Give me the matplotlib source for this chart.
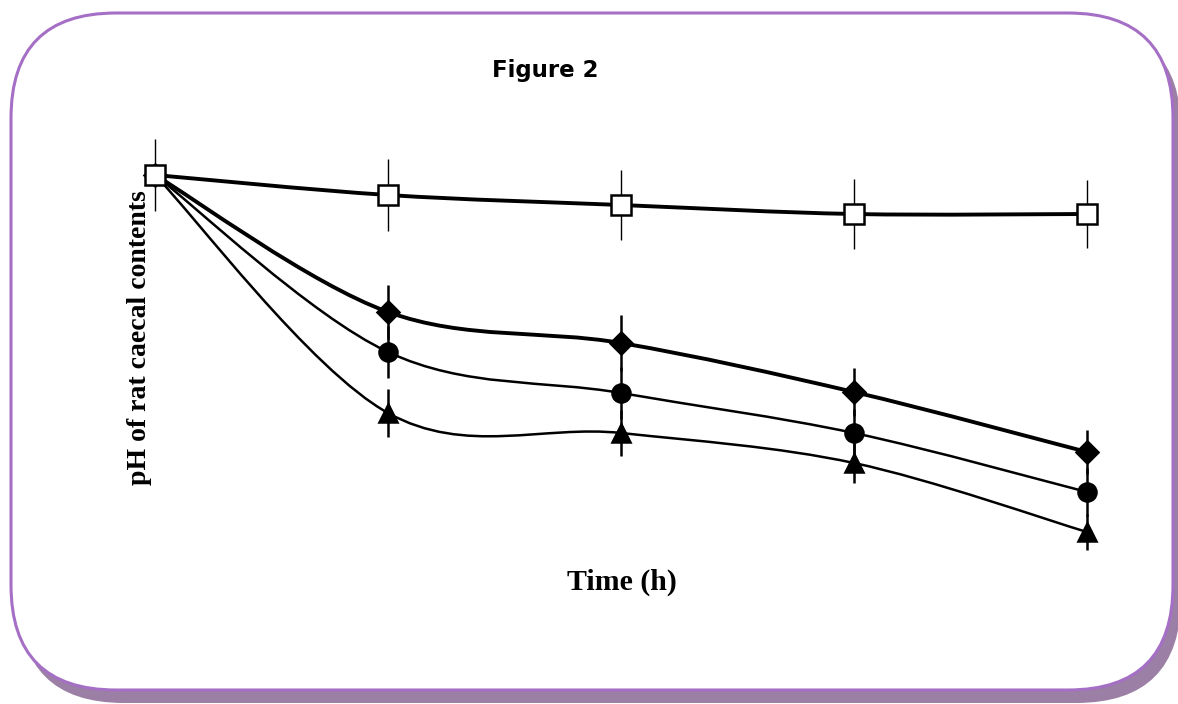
import numpy as np
import matplotlib
matplotlib.use("Agg")
import matplotlib.pyplot as plt
from matplotlib.path import Path
from matplotlib.patches import PathPatch, FancyBboxPatch

# ---- data ----
time_h = [0, 6, 12, 18, 24]
control = [7.00, 6.90, 6.85, 6.805, 6.805]
control_err = [0.18, 0.18, 0.175, 0.175, 0.17]
diet_a = [7.00, 6.315, 6.16, 5.915, 5.615]      # diamonds
diet_a_err = [0.0, 0.135, 0.14, 0.12, 0.11]
diet_b = [7.00, 6.115, 5.91, 5.71, 5.415]       # circles
diet_b_err = [0.0, 0.13, 0.13, 0.12, 0.12]
diet_c = [7.00, 5.81, 5.71, 5.56, 5.215]        # triangles
diet_c_err = [0.0, 0.12, 0.115, 0.10, 0.09]

title = "Figure 2"
xlabel = "Time (h)"
ylabel = "pH of rat caecal contents"

W, H = 1178, 704
fig = plt.figure(figsize=(W / 100, H / 100), dpi=100)

# ---- background frame (pixel coordinates) ----
bg = fig.add_axes([0, 0, 1, 1])
bg.set_xlim(0, W)
bg.set_ylim(H, 0)
bg.axis("off")
r = 105
shadow = FancyBboxPatch((11 + 8 + r, 13 + 12 + r), 1162 - 2 * r, 678 - 2 * r,
                        boxstyle=f"round,pad={r}", facecolor="#9b7fa5",
                        edgecolor="none", zorder=1)
bg.add_patch(shadow)
frame = FancyBboxPatch((11 + r, 13 + r), 1162 - 2 * r, 677 - 2 * r,
                       boxstyle=f"round,pad={r}", facecolor="white",
                       edgecolor="#a56fc6", linewidth=2.2, zorder=2)
bg.add_patch(frame)

# ---- data axes ----
px_x0, px_x1 = 155, 1087
ax_l, ax_r = 100, 1140
sx = (time_h[-1] - time_h[0]) / (px_x1 - px_x0)
y_top_px, y_ref = 175, 7.0
sy = 0.005
ax_t, ax_b = 120, 570
ax = fig.add_axes([ax_l / W, 1 - ax_b / H, (ax_r - ax_l) / W, (ax_b - ax_t) / H])
ax.set_xlim(time_h[0] - (px_x0 - ax_l) * sx, time_h[-1] + (ax_r - px_x1) * sx)
ax.set_ylim(y_ref - (ax_b - y_top_px) * sy, y_ref + (y_top_px - ax_t) * sy)
ax.patch.set_alpha(0)
ax.axis("off")


def smooth_path(xs, ys):
    pts = np.column_stack([xs, ys]).astype(float)
    n = len(pts)
    verts = [pts[0]]
    codes = [Path.MOVETO]
    for i in range(n - 1):
        p0 = pts[i - 1] if i > 0 else pts[i]
        p1 = pts[i]
        p2 = pts[i + 1]
        p3 = pts[i + 2] if i + 2 < n else pts[i + 1]
        c1 = p1 + (p2 - p0) / 6.0
        c2 = p2 - (p3 - p1) / 6.0
        verts += [c1, c2, p2]
        codes += [Path.CURVE4] * 3
    return Path(verts, codes)


series = [
    (diet_c, diet_c_err, "^", 13, 1.8, 1.8, "black", 3),
    (diet_b, diet_b_err, "o", 13, 1.8, 1.8, "black", 4),
    (diet_a, diet_a_err, "D", 11, 2.8, 1.8, "black", 5),
    (control, control_err, "s", 14.5, 2.8, 1.0, "white", 6),
]
for vals, errs, mk, ms, lw, elw, fc, z in series:
    ax.add_patch(PathPatch(smooth_path(time_h, vals), facecolor="none",
                           edgecolor="black", linewidth=lw, zorder=z,
                           clip_on=False))
    ax.errorbar(time_h, vals, yerr=errs, fmt="none", ecolor="black",
                elinewidth=elw, capsize=0, zorder=z, clip_on=False)
    ax.plot(time_h, vals, linestyle="none", marker=mk, markersize=ms,
            markerfacecolor=fc, markeredgecolor="black", markeredgewidth=1.8,
            zorder=z + 0.5, clip_on=False)

fig.text(545 / W, 1 - 70 / H, title, ha="center", va="center",
         fontsize=16.5, fontweight="bold", family="DejaVu Sans")
fig.text(622 / W, 1 - 582 / H, xlabel, ha="center", va="center",
         fontsize=21.5, fontweight="bold", family="Liberation Serif")
fig.text(139 / W, 1 - 338 / H, ylabel, ha="center", va="center",
         rotation=90, fontsize=20, fontweight="bold", family="Liberation Serif")

fig.savefig("out.png", dpi=100)
